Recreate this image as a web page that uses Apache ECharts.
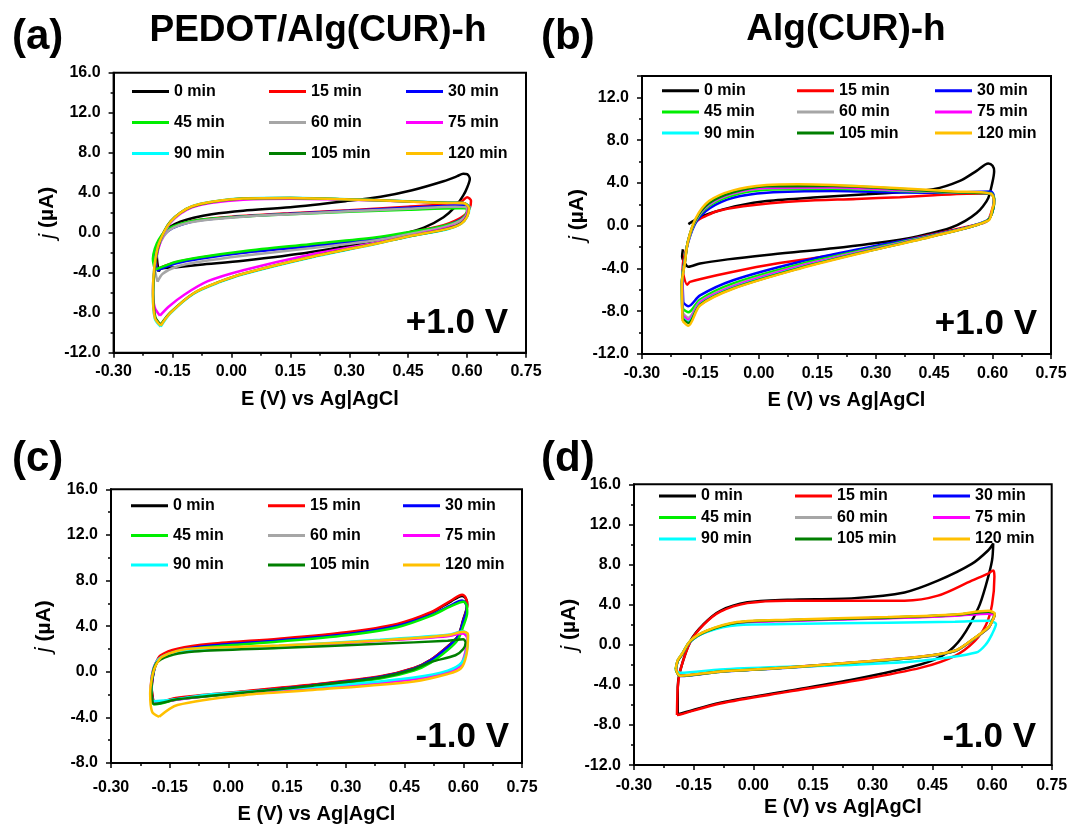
<!DOCTYPE html>
<html>
<head>
<meta charset="utf-8">
<script src="https://cdn.jsdelivr.net/npm/echarts@6/dist/echarts.min.js"></script>
<style>
html, body { margin: 0; padding: 0; background: #ffffff; }
#chart { width: 1075px; height: 825px; }
</style>
</head>
<body>
<div id="chart"></div>
<script>
// Scan times and their trace colours
const timeLabels = ['0 min', '15 min', '30 min', '45 min', '60 min', '75 min', '90 min', '105 min', '120 min'];
const lineColors = ['#000000', '#ff0000', '#0000ff', '#00ee00', '#a6a6a6', '#ff00ff', '#00ffff', '#007f00', '#ffc000'];

// Axis ranges and tick steps
const xRange = [-0.30, 0.75];
const xStep = 0.15;
const yRangeA = [-12, 16];
const yRangeB = [-12, 14];
const yRangeC = [-8, 16];
const yRangeD = [-12, 16];
const yStep = 4;

// ---- (a) PEDOT/Alg(CUR)-h, +1.0 V : [E (V), j (uA)] ----
const a0 = [[-0.185,-3.9],[-0.19,-2.3],[-0.183,-1.0],[-0.172,0.0],[-0.156,0.6],[-0.13,1.1],[-0.096,1.5],[-0.05,1.85],[0.03,2.2],[0.15,2.55],[0.29,3.15],[0.38,3.6],[0.46,4.25],[0.54,5.15],[0.575,5.65],[0.59,5.9],[0.6,5.85],[0.607,5.4],[0.6,4.5],[0.59,3.7],[0.57,2.6],[0.54,1.55],[0.49,0.5],[0.43,-0.2],[0.37,-0.75],[0.2,-1.95],[0.03,-2.8],[-0.08,-3.2],[-0.14,-3.45],[-0.18,-3.6],[-0.185,-3.9]];
const a15 = [[-0.19,-3.7],[-0.193,-2.2],[-0.185,-1.0],[-0.17,-0.1],[-0.15,0.5],[-0.12,0.95],[-0.08,1.3],[0.0,1.6],[0.15,1.95],[0.3,2.25],[0.45,2.6],[0.55,2.85],[0.585,3.1],[0.6,3.55],[0.61,3.2],[0.607,2.5],[0.595,1.8],[0.57,1.2],[0.54,0.75],[0.45,0.0],[0.37,-0.55],[0.2,-1.3],[0.03,-1.95],[-0.08,-2.5],[-0.14,-2.95],[-0.175,-3.4],[-0.19,-3.7]];
const a30 = [[-0.19,-3.8],[-0.194,-2.3],[-0.186,-1.1],[-0.17,-0.15],[-0.15,0.45],[-0.12,0.9],[-0.08,1.25],[0.0,1.55],[0.15,1.9],[0.3,2.2],[0.45,2.5],[0.55,2.7],[0.59,2.8],[0.603,2.6],[0.6,2.0],[0.59,1.5],[0.57,1.05],[0.54,0.65],[0.45,-0.05],[0.37,-0.6],[0.2,-1.35],[0.03,-2.0],[-0.08,-2.6],[-0.14,-3.05],[-0.175,-3.55],[-0.19,-3.8]];
const a45 = [[-0.195,-3.7],[-0.2,-2.6],[-0.195,-1.6],[-0.185,-0.7],[-0.17,0.1],[-0.15,0.6],[-0.12,1.0],[-0.08,1.3],[0.0,1.55],[0.15,1.85],[0.3,2.1],[0.45,2.3],[0.58,2.45],[0.6,2.4],[0.598,1.9],[0.585,1.3],[0.56,0.9],[0.52,0.5],[0.45,0.05],[0.37,-0.45],[0.2,-1.15],[0.03,-1.85],[-0.08,-2.45],[-0.14,-2.9],[-0.178,-3.45],[-0.195,-3.7]];
const a60 = [[-0.188,-4.9],[-0.195,-3.5],[-0.19,-2.0],[-0.18,-0.9],[-0.165,0.0],[-0.145,0.55],[-0.11,1.0],[-0.06,1.3],[0.03,1.6],[0.15,1.85],[0.3,2.15],[0.45,2.4],[0.57,2.6],[0.6,2.55],[0.6,2.0],[0.59,1.4],[0.57,0.95],[0.54,0.55],[0.45,-0.15],[0.37,-0.75],[0.2,-1.55],[0.03,-2.3],[-0.08,-2.9],[-0.14,-3.4],[-0.175,-4.1],[-0.188,-4.9]];
const a75 = [[-0.182,-8.3],[-0.195,-7.5],[-0.2,-5.8],[-0.196,-3.6],[-0.186,-1.6],[-0.172,-0.1],[-0.155,1.0],[-0.13,1.9],[-0.1,2.55],[-0.05,3.0],[0.03,3.3],[0.15,3.4],[0.3,3.3],[0.45,3.12],[0.55,2.98],[0.59,2.95],[0.603,2.5],[0.598,1.7],[0.585,1.0],[0.55,0.5],[0.45,-0.35],[0.37,-1.0],[0.2,-2.2],[0.03,-3.75],[-0.06,-4.85],[-0.12,-6.2],[-0.16,-7.4],[-0.182,-8.3]];
const a90 = [[-0.18,-9.4],[-0.195,-8.6],[-0.2,-6.2],[-0.197,-3.8],[-0.188,-1.6],[-0.172,0.0],[-0.155,1.1],[-0.13,2.0],[-0.1,2.65],[-0.05,3.1],[0.03,3.45],[0.15,3.5],[0.3,3.35],[0.45,3.15],[0.55,3.0],[0.59,2.98],[0.606,2.5],[0.6,1.6],[0.585,0.9],[0.55,0.35],[0.45,-0.4],[0.37,-1.1],[0.2,-2.5],[0.03,-4.15],[-0.03,-4.95],[-0.096,-6.1],[-0.156,-8.1],[-0.18,-9.4]];
const a105 = [[-0.18,-9.2],[-0.194,-8.4],[-0.199,-6.0],[-0.196,-3.7],[-0.187,-1.5],[-0.172,0.1],[-0.155,1.15],[-0.13,2.0],[-0.1,2.62],[-0.05,3.08],[0.03,3.42],[0.15,3.48],[0.3,3.33],[0.45,3.13],[0.55,2.99],[0.59,2.97],[0.605,2.5],[0.6,1.65],[0.585,0.95],[0.55,0.4],[0.45,-0.38],[0.37,-1.07],[0.2,-2.45],[0.03,-4.1],[-0.03,-4.9],[-0.096,-6.05],[-0.156,-8.0],[-0.18,-9.2]];
const a120 = [[-0.18,-9.3],[-0.195,-8.5],[-0.2,-6.1],[-0.197,-3.7],[-0.188,-1.5],[-0.172,0.05],[-0.155,1.1],[-0.13,2.0],[-0.1,2.65],[-0.05,3.1],[0.03,3.42],[0.15,3.47],[0.3,3.33],[0.45,3.13],[0.55,2.98],[0.59,2.98],[0.605,2.45],[0.6,1.6],[0.585,0.9],[0.55,0.38],[0.45,-0.38],[0.37,-1.08],[0.2,-2.45],[0.03,-4.1],[-0.03,-4.9],[-0.096,-6.05],[-0.156,-8.05],[-0.18,-9.3]];

// ---- (b) Alg(CUR)-h, +1.0 V ----
const b0 = [[-0.181,0.15],[-0.15,0.8],[-0.108,1.35],[-0.05,1.9],[0.02,2.3],[0.15,2.65],[0.277,2.93],[0.37,3.15],[0.448,3.4],[0.516,4.19],[0.559,5.13],[0.589,5.82],[0.6,5.6],[0.604,5.1],[0.598,3.8],[0.589,2.6],[0.575,1.8],[0.559,1.19],[0.53,0.45],[0.491,-0.22],[0.43,-0.8],[0.362,-1.32],[0.191,-2.12],[0.02,-2.74],[-0.08,-3.15],[-0.151,-3.53],[-0.181,-3.84],[-0.19,-3.5],[-0.197,-2.9],[-0.195,-2.2]];
const b15 = [[-0.196,-4.2],[-0.194,-3.3],[-0.185,-2.0],[-0.175,-0.6],[-0.16,0.41],[-0.13,1.0],[-0.108,1.35],[-0.04,1.82],[0.106,2.3],[0.25,2.5],[0.362,2.67],[0.45,2.85],[0.534,2.99],[0.595,3.0],[0.604,2.4],[0.598,1.4],[0.589,0.57],[0.576,0.25],[0.448,-0.79],[0.362,-1.48],[0.191,-2.74],[0.02,-3.69],[-0.108,-4.63],[-0.177,-5.26],[-0.184,-5.52],[-0.196,-4.2]];
const b30 = [[-0.194,-7.2],[-0.196,-4.7],[-0.19,-3.1],[-0.181,-1.48],[-0.16,0.4],[-0.125,1.66],[-0.066,2.61],[0.02,3.08],[0.19,3.24],[0.362,3.1],[0.5,3.08],[0.595,3.2],[0.603,2.77],[0.603,1.98],[0.585,0.47],[0.448,-0.85],[0.277,-2.05],[0.106,-3.37],[-0.066,-5.1],[-0.151,-6.52],[-0.181,-7.53],[-0.194,-7.2]];
const b45 = [[-0.195,-7.8],[-0.197,-5.0],[-0.19,-3.2],[-0.182,-1.5],[-0.162,0.45],[-0.128,1.85],[-0.066,2.85],[0.02,3.35],[0.19,3.45],[0.362,3.25],[0.5,3.1],[0.595,3.05],[0.604,2.6],[0.603,1.9],[0.586,0.45],[0.448,-0.9],[0.277,-2.2],[0.106,-3.6],[-0.066,-5.4],[-0.151,-6.9],[-0.181,-8.1],[-0.195,-7.8]];
const b60 = [[-0.195,-8.2],[-0.197,-5.2],[-0.19,-3.3],[-0.182,-1.5],[-0.162,0.5],[-0.128,1.95],[-0.066,3.0],[0.02,3.5],[0.19,3.55],[0.362,3.3],[0.5,3.1],[0.595,3.0],[0.604,2.5],[0.603,1.9],[0.586,0.45],[0.448,-0.92],[0.277,-2.28],[0.106,-3.75],[-0.066,-5.6],[-0.151,-7.1],[-0.181,-8.6],[-0.195,-8.2]];
const b75 = [[-0.195,-8.4],[-0.197,-5.3],[-0.19,-3.35],[-0.182,-1.5],[-0.162,0.55],[-0.128,2.0],[-0.066,3.05],[0.02,3.55],[0.19,3.6],[0.362,3.35],[0.5,3.12],[0.595,3.0],[0.604,2.45],[0.603,1.85],[0.586,0.45],[0.448,-0.94],[0.277,-2.32],[0.106,-3.8],[-0.066,-5.7],[-0.151,-7.2],[-0.181,-8.8],[-0.195,-8.4]];
const b90 = [[-0.196,-8.6],[-0.198,-5.4],[-0.19,-3.4],[-0.182,-1.45],[-0.162,0.6],[-0.128,2.1],[-0.066,3.15],[0.02,3.7],[0.19,3.75],[0.362,3.45],[0.5,3.15],[0.595,3.0],[0.604,2.4],[0.603,1.8],[0.586,0.45],[0.448,-0.96],[0.277,-2.38],[0.106,-3.9],[-0.066,-5.8],[-0.151,-7.35],[-0.181,-9.0],[-0.196,-8.6]];
const b105 = [[-0.196,-8.7],[-0.198,-5.45],[-0.19,-3.45],[-0.182,-1.45],[-0.162,0.6],[-0.128,2.1],[-0.066,3.12],[0.02,3.68],[0.19,3.72],[0.362,3.42],[0.5,3.13],[0.595,3.0],[0.604,2.4],[0.603,1.8],[0.586,0.45],[0.448,-0.97],[0.277,-2.4],[0.106,-3.95],[-0.066,-5.85],[-0.151,-7.4],[-0.181,-9.1],[-0.196,-8.7]];
const b120 = [[-0.196,-8.9],[-0.198,-5.5],[-0.19,-3.5],[-0.182,-1.45],[-0.162,0.7],[-0.128,2.3],[-0.066,3.3],[0.02,3.8],[0.1,3.88],[0.19,3.8],[0.362,3.5],[0.5,3.2],[0.595,3.0],[0.604,2.14],[0.6,1.6],[0.589,0.47],[0.448,-0.98],[0.277,-2.43],[0.106,-4.0],[-0.066,-5.9],[-0.151,-7.47],[-0.181,-9.36],[-0.196,-8.9]];

// ---- (c) PEDOT/Alg(CUR)-h, -1.0 V ----
const c0 = [[-0.192,-2.6],[-0.196,-1.5],[-0.192,-0.2],[-0.185,0.7],[-0.173,1.34],[-0.13,1.92],[-0.044,2.37],[0.129,2.81],[0.301,3.39],[0.431,4.13],[0.517,5.16],[0.569,6.18],[0.597,6.65],[0.606,6.45],[0.61,5.9],[0.6,4.6],[0.586,3.1],[0.56,2.22],[0.517,1.04],[0.474,0.31],[0.388,-0.43],[0.215,-1.16],[0.042,-1.75],[-0.13,-2.33],[-0.19,-2.77],[-0.192,-2.6]];
const c15 = [[-0.192,-2.55],[-0.196,-1.4],[-0.192,-0.1],[-0.185,0.8],[-0.173,1.45],[-0.13,2.02],[-0.044,2.45],[0.129,2.9],[0.301,3.47],[0.431,4.2],[0.517,5.22],[0.569,6.25],[0.597,6.75],[0.606,6.5],[0.61,5.85],[0.6,4.5],[0.586,3.05],[0.56,2.2],[0.517,1.05],[0.474,0.33],[0.388,-0.4],[0.215,-1.12],[0.042,-1.7],[-0.13,-2.28],[-0.19,-2.72],[-0.192,-2.55]];
const c30 = [[-0.193,-2.65],[-0.197,-1.5],[-0.192,-0.2],[-0.185,0.65],[-0.173,1.25],[-0.13,1.85],[-0.044,2.3],[0.129,2.75],[0.301,3.3],[0.431,4.02],[0.517,4.98],[0.569,5.85],[0.597,6.25],[0.605,6.05],[0.609,5.6],[0.6,4.45],[0.586,3.05],[0.56,2.15],[0.517,1.0],[0.474,0.28],[0.388,-0.46],[0.215,-1.2],[0.042,-1.8],[-0.13,-2.38],[-0.19,-2.8],[-0.193,-2.65]];
const c45 = [[-0.194,-2.7],[-0.198,-1.5],[-0.193,-0.2],[-0.186,0.6],[-0.173,1.2],[-0.13,1.78],[-0.044,2.2],[0.129,2.65],[0.301,3.2],[0.431,3.9],[0.517,4.9],[0.569,5.75],[0.6,6.15],[0.608,5.9],[0.61,5.2],[0.6,4.0],[0.586,2.8],[0.56,1.9],[0.517,0.8],[0.474,0.1],[0.388,-0.6],[0.215,-1.3],[0.042,-1.85],[-0.13,-2.42],[-0.19,-2.85],[-0.194,-2.7]];
const c60 = [[-0.195,-2.55],[-0.198,-1.3],[-0.192,0.2],[-0.178,1.1],[-0.14,1.65],[-0.087,1.92],[0.129,2.22],[0.387,2.75],[0.56,3.15],[0.599,3.4],[0.61,3.0],[0.607,2.0],[0.594,0.7],[0.56,0.0],[0.474,-0.6],[0.3,-1.22],[0.129,-1.62],[-0.044,-2.05],[-0.19,-2.62],[-0.195,-2.55]];
const c75 = [[-0.195,-2.5],[-0.198,-1.25],[-0.192,0.25],[-0.178,1.1],[-0.14,1.62],[-0.087,1.9],[0.129,2.2],[0.387,2.72],[0.56,3.12],[0.599,3.35],[0.61,2.95],[0.607,1.9],[0.594,0.6],[0.56,-0.05],[0.474,-0.65],[0.3,-1.25],[0.129,-1.65],[-0.044,-2.08],[-0.19,-2.62],[-0.195,-2.5]];
const c90 = [[-0.195,-2.55],[-0.197,-1.2],[-0.191,0.3],[-0.175,1.2],[-0.14,1.7],[-0.087,1.98],[0.129,2.28],[0.387,2.81],[0.56,3.24],[0.6,3.55],[0.612,3.2],[0.61,2.0],[0.596,0.8],[0.56,0.1],[0.474,-0.5],[0.3,-1.12],[0.129,-1.55],[-0.044,-1.98],[-0.19,-2.58],[-0.195,-2.55]];
const c105 = [[-0.193,-2.8],[-0.197,-1.5],[-0.192,0.1],[-0.18,0.9],[-0.14,1.5],[-0.087,1.78],[0.129,2.08],[0.387,2.45],[0.56,2.72],[0.6,2.85],[0.606,2.55],[0.6,2.0],[0.58,1.45],[0.517,0.85],[0.474,0.22],[0.388,-0.5],[0.215,-1.22],[0.042,-1.82],[-0.13,-2.42],[-0.19,-2.82],[-0.193,-2.8]];
const c120 = [[-0.177,-3.95],[-0.195,-3.5],[-0.2,-1.9],[-0.194,-0.3],[-0.185,0.6],[-0.17,1.3],[-0.13,1.85],[-0.087,2.05],[0.129,2.3],[0.387,2.75],[0.56,3.2],[0.6,3.5],[0.612,3.3],[0.608,1.5],[0.594,0.3],[0.56,-0.2],[0.474,-0.85],[0.215,-1.6],[0.042,-2.03],[-0.13,-2.92],[-0.177,-3.95]];

// ---- (d) Alg(CUR)-h, -1.0 V ----
const d0 = [[-0.19,-6.9],[-0.19,-4.2],[-0.184,-2.6],[-0.158,0.39],[-0.125,2.06],[-0.083,3.39],[-0.015,4.23],[0.086,4.49],[0.254,4.65],[0.38,5.22],[0.464,6.39],[0.549,8.06],[0.59,9.4],[0.603,10.1],[0.6,8.4],[0.585,6.0],[0.566,3.72],[0.524,0.73],[0.481,-0.95],[0.422,-1.94],[0.254,-3.44],[0.086,-4.61],[-0.083,-5.77],[-0.184,-6.88],[-0.19,-6.9]];
const d15 = [[-0.192,-7.0],[-0.19,-4.3],[-0.184,-2.6],[-0.158,0.3],[-0.125,2.0],[-0.083,3.3],[-0.015,4.15],[0.086,4.4],[0.254,4.39],[0.38,4.4],[0.464,4.9],[0.549,6.4],[0.59,7.1],[0.603,7.4],[0.606,6.8],[0.6,4.0],[0.585,2.0],[0.557,0.39],[0.507,-1.1],[0.422,-2.28],[0.254,-3.6],[0.086,-4.7],[-0.083,-5.85],[-0.184,-6.95],[-0.192,-7.0]];
const d30 = [[-0.194,-2.45],[-0.19,-1.6],[-0.179,-0.95],[-0.158,0.35],[-0.116,1.35],[-0.041,2.18],[0.086,2.42],[0.338,2.68],[0.507,2.95],[0.591,3.25],[0.606,3.0],[0.6,2.35],[0.591,1.7],[0.547,0.38],[0.507,-0.62],[0.422,-1.22],[0.254,-1.8],[0.086,-2.3],[-0.083,-2.7],[-0.184,-3.12],[-0.194,-2.45]];
const d45 = [[-0.195,-2.4],[-0.19,-1.55],[-0.179,-0.9],[-0.158,0.4],[-0.116,1.4],[-0.041,2.22],[0.086,2.45],[0.338,2.7],[0.507,2.97],[0.591,3.28],[0.606,3.0],[0.6,2.3],[0.591,1.68],[0.547,0.36],[0.507,-0.63],[0.422,-1.21],[0.254,-1.78],[0.086,-2.28],[-0.083,-2.68],[-0.184,-3.1],[-0.195,-2.4]];
const d60 = [[-0.194,-2.42],[-0.19,-1.58],[-0.179,-0.93],[-0.158,0.38],[-0.116,1.38],[-0.041,2.2],[0.086,2.44],[0.338,2.7],[0.507,2.97],[0.591,3.3],[0.606,3.02],[0.6,2.36],[0.591,1.72],[0.547,0.39],[0.507,-0.61],[0.422,-1.2],[0.254,-1.77],[0.086,-2.28],[-0.083,-2.68],[-0.184,-3.1],[-0.194,-2.42]];
const d75 = [[-0.194,-2.4],[-0.19,-1.6],[-0.179,-0.95],[-0.158,0.36],[-0.116,1.33],[-0.041,2.15],[0.086,2.38],[0.338,2.64],[0.507,2.88],[0.591,3.1],[0.606,2.9],[0.6,2.3],[0.591,1.7],[0.547,0.38],[0.507,-0.6],[0.422,-1.18],[0.254,-1.75],[0.086,-2.25],[-0.083,-2.65],[-0.184,-3.05],[-0.194,-2.4]];
const d90 = [[-0.195,-2.6],[-0.19,-1.6],[-0.179,-0.9],[-0.158,0.35],[-0.116,1.3],[-0.041,1.95],[0.086,2.06],[0.338,2.2],[0.507,2.3],[0.591,2.39],[0.61,2.06],[0.6,1.06],[0.585,0.06],[0.56,-0.78],[0.422,-1.6],[0.254,-2.0],[0.086,-2.2],[-0.083,-2.47],[-0.184,-2.8],[-0.195,-2.6]];
const d105 = [[-0.195,-2.45],[-0.19,-1.62],[-0.179,-0.96],[-0.158,0.37],[-0.116,1.37],[-0.041,2.2],[0.086,2.44],[0.338,2.7],[0.507,2.98],[0.591,3.3],[0.607,3.05],[0.6,2.38],[0.591,1.72],[0.547,0.4],[0.507,-0.6],[0.422,-1.19],[0.254,-1.76],[0.086,-2.27],[-0.083,-2.67],[-0.184,-3.1],[-0.195,-2.45]];
const d120 = [[-0.195,-2.4],[-0.19,-1.55],[-0.179,-0.9],[-0.158,0.42],[-0.116,1.42],[-0.041,2.26],[0.086,2.5],[0.338,2.76],[0.507,3.02],[0.591,3.38],[0.607,3.1],[0.601,2.4],[0.591,1.75],[0.547,0.42],[0.507,-0.58],[0.422,-1.18],[0.254,-1.75],[0.086,-2.26],[-0.083,-2.66],[-0.184,-3.08],[-0.195,-2.4]];

const FONT = '"Liberation Sans", Arial, Helvetica, sans-serif';

// Panel layout: plot boxes, axis-name gaps and legend placement
const panels = [
  { curves: [a0, a15, a30, a45, a60, a75, a90, a105, a120], y: yRangeA,
    grid: { left: 113.6, top: 72.7, width: 412.4, height: 280 },
    xLabelMargin: 11, xNameGap: 37, yNameGap: 55,
    legendLeft: [132, 269, 406], legendTop: 82.5, legendGap: 13 },
  { curves: [b0, b15, b30, b45, b60, b75, b90, b105, b120], y: yRangeB, hideMax: true,
    grid: { left: 642, top: 76, width: 409, height: 278 },
    xLabelMargin: 12, xNameGap: 36, yNameGap: 47,
    legendLeft: [662, 797, 935], legendTop: 81.7, legendGap: 3.2 },
  { curves: [c0, c15, c30, c45, c60, c75, c90, c105, c120], y: yRangeC,
    grid: { left: 111, top: 489.3, width: 411, height: 276.1 },
    xLabelMargin: 17, xNameGap: 41, yNameGap: 56,
    legendLeft: [131, 268, 403], legendTop: 496.8, legendGap: 11.6 },
  { curves: [d0, d15, d30, d45, d60, d75, d90, d105, d120], y: yRangeD,
    grid: { left: 634, top: 484.3, width: 417.7, height: 280.8 },
    xLabelMargin: 12, xNameGap: 32, yNameGap: 41,
    legendLeft: [659, 795, 933], legendTop: 487, legendGap: 3.5 }
];

const tickText = { fontSize: 16, fontWeight: 'bold', color: '#000', fontFamily: FONT };
const nameText = { fontSize: 20, fontWeight: 'bold', color: '#000', fontFamily: FONT };
const blackLine = { color: '#000', width: 2 };

function fmt(v, d) {
  return (Math.abs(v) < 1e-9 ? 0 : v).toFixed(d);
}

const grids = panels.map(p => Object.assign({ show: true, borderColor: '#000', borderWidth: 2, containLabel: false }, p.grid));

const xAxes = panels.map((p, i) => ({
  type: 'value', gridIndex: i,
  min: xRange[0], max: xRange[1], interval: xStep,
  name: 'E (V) vs Ag|AgCl', nameLocation: 'middle', nameGap: p.xNameGap, nameTextStyle: nameText,
  axisLine: { onZero: false, lineStyle: blackLine },
  axisTick: { length: 5, lineStyle: { color: '#000', width: 1.5 } },
  minorTick: { show: true, splitNumber: 2, length: 3, lineStyle: { color: '#000', width: 1.5 } },
  splitLine: { show: false },
  axisLabel: Object.assign({ margin: p.xLabelMargin, formatter: v => fmt(v, 2) }, tickText)
}));

const yAxes = panels.map((p, i) => ({
  type: 'value', gridIndex: i,
  min: p.y[0], max: p.y[1], interval: yStep,
  name: '{it|j} (\u00b5A)', nameLocation: 'middle', nameRotate: 90, nameGap: p.yNameGap,
  nameTextStyle: Object.assign({}, nameText, { fontSize: 21, rich: { it: { fontStyle: 'italic', fontWeight: 'normal', fontSize: 22, fontFamily: FONT, color: '#000' } } }),
  axisLine: { onZero: false, lineStyle: blackLine },
  axisTick: { length: 5, lineStyle: { color: '#000', width: 1.5 } },
  minorTick: { show: true, splitNumber: 2, length: 3, lineStyle: { color: '#000', width: 1.5 } },
  splitLine: { show: false },
  axisLabel: Object.assign({ margin: 13, showMaxLabel: !p.hideMax, formatter: v => fmt(v, 1) }, tickText)
}));

const series = [];
panels.forEach((p, i) => {
  p.curves.forEach((curve, k) => {
    series.push({
      type: 'line', name: timeLabels[k], xAxisIndex: i, yAxisIndex: i,
      data: curve, showSymbol: false, symbol: 'none', smooth: 0.3,
      color: lineColors[k],
      lineStyle: { color: lineColors[k], width: 2.5 },
      emphasis: { disabled: true }, animation: false
    });
  });
});

const legends = [];
panels.forEach(p => {
  for (let c = 0; c < 3; c++) {
    legends.push({
      orient: 'vertical', left: p.legendLeft[c], top: p.legendTop,
      itemGap: p.legendGap, itemWidth: 37, itemHeight: 3, icon: 'rect',
      padding: 0, selectedMode: false,
      data: [timeLabels[c], timeLabels[c + 3], timeLabels[c + 6]],
      textStyle: Object.assign({ lineHeight: 18 }, tickText)
    });
  }
});

function label(text, x, y, size, align) {
  return {
    type: 'text', x: x, y: y, z: 10,
    style: {
      text: text, fill: '#000', font: 'bold ' + size + 'px ' + FONT,
      align: align, textAlign: align, verticalAlign: 'middle', textVerticalAlign: 'middle'
    }
  };
}

const graphics = [
  label('(a)', 12, 37, 42, 'left'),
  label('(b)', 541, 37, 42, 'left'),
  label('(c)', 12, 459, 42, 'left'),
  label('(d)', 541, 459, 42, 'left'),
  label('PEDOT/Alg(CUR)-h', 318, 31, 37, 'center'),
  label('Alg(CUR)-h', 846, 30, 37, 'center'),
  label('+1.0 V', 508, 323, 35, 'right'),
  label('+1.0 V', 1037, 324, 35, 'right'),
  label('-1.0 V', 509, 737, 35, 'right'),
  label('-1.0 V', 1036, 737, 35, 'right')
];

const chart = echarts.init(document.getElementById('chart'), null, { renderer: 'canvas' });
chart.setOption({
  backgroundColor: '#ffffff',
  animation: false,
  grid: grids,
  xAxis: xAxes,
  yAxis: yAxes,
  legend: legends,
  series: series,
  graphic: graphics
});
</script>
</body>
</html>
